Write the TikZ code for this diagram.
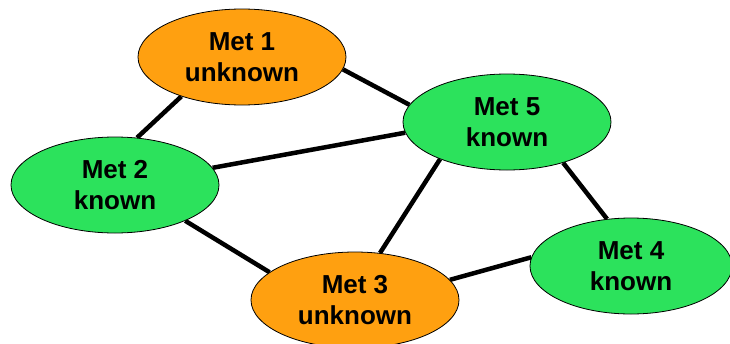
\documentclass[tikz,border=0pt]{standalone}
\usepackage{fontspec}
\setmainfont{Liberation Sans}
\usetikzlibrary{shapes.geometric,backgrounds}
\definecolor{metorange}{RGB}{255,160,16}
\definecolor{metgreen}{RGB}{44,226,92}
\tikzset{
  met/.style={ellipse, draw=black, line width=0.8pt, inner sep=0pt,
    minimum width=208pt, minimum height=96pt, align=center,
    font=\fontsize{26}{31}\selectfont\bfseries},
  metknown/.style={met, fill=metgreen},
  metunknown/.style={met, fill=metorange},
  link/.style={line width=4.5pt}
}
\begin{document}
\begin{tikzpicture}[x=1pt,y=-1pt]
\useasboundingbox (0,0) rectangle (730,343);

\node[metunknown] (m1) at (242,57) {Met 1\\unknown};
\node[metknown] (m2) at (115,185) {Met 2\\known};
\node[metknown] (m5) at (507,122) {Met 5\\known};
\node[metunknown] (m3) at (355,300) {Met 3\\unknown};
\node[metknown, minimum width=202pt] (m4) at (631,266) {Met 4\\known};

\begin{scope}[on background layer]
\draw[link] (m1.213) -- (m2.65);
\draw[link] (m1.-7) -- (m5.170);
\draw[link] (m2.10) -- (m5.186);
\draw[link] (m2.-27) -- (m3.162);
\draw[link] (m5.209) -- (m3.62);
\draw[link] (m5.-36) -- (m4.117);
\draw[link] (m3.12) -- (m4.175);
\end{scope}

\end{tikzpicture}
\end{document}
